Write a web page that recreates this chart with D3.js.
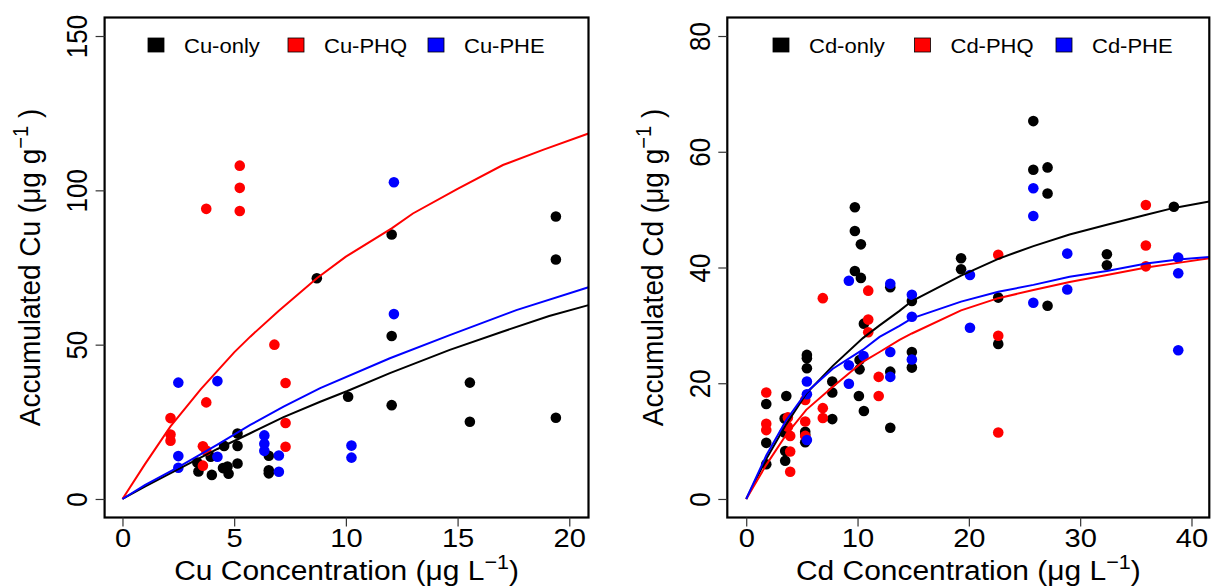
<!DOCTYPE html>
<html>
<head>
<meta charset="utf-8">
<script src="https://cdn.jsdelivr.net/npm/d3@7"></script>
<style>
  body { margin: 0; background: #fff; }
</style>
</head>
<body>
<script>
// ---- data ----

// left panel: Cu
var cuTicksX = [0, 5, 10, 15, 20],
    cuTicksY = [0, 50, 100, 150];

var cuOnly = [[3.35,11.8],[3.4,8.9],[3.95,13.7],[4.0,7.8],[4.55,17.2],[4.5,10.0],[4.7,10.5],
    [4.75,8.2],[5.15,21.2],[5.15,17.2],[5.15,11.5],[6.55,14.0],[6.55,9.3],[6.55,8.3],[8.7,71.5],
    [10.1,33.1],[12.05,85.7],[12.05,52.8],[12.05,30.4],[15.55,37.7],[15.55,25.0],[19.4,91.5],
    [19.4,77.6],[19.4,26.3]];
var cuPHQ = [[2.15,26.2],[2.15,20.9],[2.15,18.9],[3.75,94.0],[3.75,31.3],[3.6,17.1],[3.75,15.7],
    [3.6,10.8],[5.25,108.0],[5.25,100.8],[5.25,93.3],[6.8,50.0],[7.3,37.6],[7.3,24.6],[7.3,16.9]];
var cuPHE = [[2.5,37.7],[2.5,13.9],[2.5,10.1],[4.25,38.2],[4.25,13.7],[6.35,20.6],[6.35,17.9],
    [6.35,15.6],[7.0,14.1],[7.0,8.8],[10.25,17.3],[10.25,13.4],[12.15,102.6],[12.15,59.9]];

var cuFitOnly = [[0,0],[1,4.0],[2.5,9.7],[4.25,16.2],[5.72,21.3],[7.21,26.5],[8.85,31.5],
    [10.04,34.9],[11.97,40.8],[14.65,48.3],[17,54.2],[19.1,59.3],[20.86,62.8]];
var cuFitPHQ = [[0,0],[1,11.2],[2.15,23.5],[3.5,35.5],[5,47.5],[5.72,52.6],[7,61],[8.7,71.5],
    [10,78.5],[12.05,87.7],[13,92.5],[15,100.5],[17.03,108.2],[18.82,113.1],[20.86,118.4]];
var cuFitPHE = [[0,0],[1,4.5],[2.5,10.3],[4.25,17.6],[5.72,24],[7.21,29.9],[8.85,35.9],
    [11.97,45.6],[14.65,53.1],[17.63,61.2],[20.86,68.6]];

// right panel: Cd
var cdTicksX = [0, 10, 20, 30, 40],
    cdTicksY = [0, 20, 40, 60, 80];

var cdOnly = [[1.8,16.4],[1.8,9.7],[1.8,6.0],[3.45,13.9],[3.6,17.8],[3.45,11.5],[3.5,8.3],[3.5,6.6],
    [5.45,24.9],[5.45,24.3],[5.45,22.6],[5.3,11.6],[5.3,11.1],[5.3,9.8],[7.73,20.3],[7.73,18.4],
    [7.73,13.8],[9.76,50.4],[9.76,46.3],[10.3,44.0],[9.76,39.4],[10.3,38.2],[10.57,30.3],
    [10.18,24.0],[10.18,22.4],[10.12,17.8],[10.57,15.2],[12.94,36.6],[12.94,22.0],[12.94,12.3],
    [14.88,34.2],[14.88,25.4],[14.88,22.7],[19.3,41.6],[19.3,39.7],[22.64,34.8],[22.64,26.8],
    [25.79,65.3],[25.79,56.9],[27.07,57.3],[27.07,52.8],[27.07,33.4],[32.4,42.3],[32.4,40.4],
    [38.42,50.5]];
var cdPHQ = [[1.8,18.4],[1.8,13.0],[1.8,11.9],[3.74,14.1],[3.74,12.5],[3.95,10.9],[3.95,8.2],
    [3.95,4.7],[5.3,17.1],[5.3,13.4],[5.3,10.9],[6.88,34.7],[6.88,15.7],[6.88,14.0],[10.96,36.0],
    [10.96,31.0],[10.96,28.8],[11.9,21.1],[11.9,17.8],[22.64,42.2],[22.64,28.2],[22.64,11.5],
    [35.9,50.8],[35.9,43.8],[35.9,40.2]];
var cdPHE = [[5.45,20.3],[5.45,18.1],[5.45,10.2],[9.22,37.7],[9.22,23.1],[9.22,19.9],[10.54,24.7],
    [12.94,37.2],[12.94,25.4],[12.94,21.1],[14.88,35.3],[14.88,31.5],[14.88,24.1],[20.1,38.7],
    [20.1,29.6],[25.79,53.7],[25.79,48.9],[25.79,33.9],[28.84,42.4],[28.84,36.2],[38.81,41.7],
    [38.81,39.0],[38.81,25.7]];

var cdFitOnly = [[0,0],[1.8,6.9],[3.59,12.9],[5.39,18.2],[7.78,23.0],[10.48,27.8],[11.98,30.0],
    [13.77,32.5],[14.88,34.2],[19.3,38.6],[22.64,41.5],[25.8,43.7],[29.05,45.7],[32.4,47.4],
    [35.94,49.1],[38.42,50.3],[41.6,51.4]];
var cdFitPHQ = [[0,0],[1.8,5.9],[3.59,11.1],[5.39,15.4],[7.78,19.4],[10.48,23.7],[11.98,25.4],
    [13.77,27.5],[14.88,28.6],[19.3,32.6],[22.64,34.7],[25.8,36.1],[29.05,37.5],[32.4,38.7],
    [35.94,40.0],[38.8,40.8],[41.6,41.6]];
var cdFitPHE = [[0,0],[1.8,7.5],[3.59,13.6],[5.39,18.4],[7.78,22.5],[10.48,25.8],[11.98,28.0],
    [13.77,29.9],[14.88,31.2],[19.3,34.1],[22.64,35.8],[25.8,37.0],[29.05,38.4],[32.4,39.4],
    [35.94,40.7],[38.8,41.4],[41.6,41.8]];

var cuLegend = ["Cu-only", "Cu-PHQ", "Cu-PHE"],
    cdLegend = ["Cd-only", "Cd-PHQ", "Cd-PHE"];
var colors = ["#000000", "#ff0000", "#0000ff"];

// ---- drawing ----
var width = 1212, height = 586;
var FONT = "'Liberation Sans', Arial, Helvetica, sans-serif";
var SX_TICK = 1.12,  // glyphs in the original are a bit wide
    SX_TITLE = 1.07,
    SX_LEG = 1.1;

var svg = d3.select("body").append("svg")
    .attr("width", width)
    .attr("height", height);

//text with a superscript part, e.g. (μg g^-1)
function supText(sel, main, sup, tail){
    sel.append("tspan").text(main);
    sel.append("tspan").attr("dy", -11).attr("font-size", "0.72em").text(sup);
    sel.append("tspan").attr("dy", 11).text(tail);
}

function drawPanel(p){
    var x = d3.scaleLinear().domain(p.xDomain).range([p.left, p.right]);
    var y = d3.scaleLinear().domain(p.yDomain).range([p.bottom, p.top]);
    var g = svg.append("g");

    //points
    p.series.forEach(function(pts, i){
        g.append("g").selectAll("circle")
            .data(pts)
            .enter()
            .append("circle")
            .attr("cx", function(d){ return x(d[0]); })
            .attr("cy", function(d){ return y(d[1]); })
            .attr("r", 5.3)
            .attr("fill", colors[i]);
    });

    //fitted curves
    var line = d3.line()
        .x(function(d){ return x(d[0]); })
        .y(function(d){ return y(d[1]); });
    p.fits.forEach(function(f, i){
        g.append("path")
            .attr("d", line(f))
            .attr("fill", "none")
            .attr("stroke", colors[i])
            .attr("stroke-width", 2);
    });

    //box
    g.append("rect")
        .attr("x", p.left).attr("y", p.top)
        .attr("width", p.right - p.left)
        .attr("height", p.bottom - p.top)
        .attr("fill", "none")
        .attr("stroke", "#000")
        .attr("stroke-width", 2.2);

    //x axis
    var xa = g.append("g")
        .attr("transform", "translate(0," + p.bottom + ")")
        .call(d3.axisBottom(x).tickValues(p.xTicks).tickSize(9).tickFormat(d3.format("d")));
    xa.select(".domain").remove();
    xa.selectAll("line").attr("stroke", "#333").attr("stroke-width", 1.2);
    xa.selectAll("text")
        .attr("y", null).attr("dy", null)
        .attr("transform", "translate(0," + (p.xLabelBase - p.bottom) + ") scale(" + SX_TICK + ",1)")
        .attr("font-size", 26).attr("font-family", FONT).attr("fill", "#000");

    //y axis, labels rotated like R's las=0
    var ya = g.append("g")
        .attr("transform", "translate(" + p.left + ",0)")
        .call(d3.axisLeft(y).tickValues(p.yTicks).tickSize(9).tickFormat(d3.format("d")));
    ya.select(".domain").remove();
    ya.selectAll("line").attr("stroke", "#333").attr("stroke-width", 1.2);
    ya.selectAll("text")
        .attr("x", null).attr("dy", null)
        .attr("text-anchor", "middle")
        .attr("transform", "translate(" + (p.yLabelBase - p.left) + ",0) scale(" + SX_TICK + ",1) rotate(-90)")
        .attr("font-size", 26).attr("font-family", FONT).attr("fill", "#000");

    //axis titles
    var xt = g.append("text")
        .attr("text-anchor", "middle")
        .attr("transform", "translate(" + ((p.left + p.right) / 2) + "," + p.xTitleBase + ") scale(" + SX_TITLE + ",1)")
        .attr("font-size", 28).attr("font-family", FONT);
    supText(xt, p.xTitle, "\u22121", ")");

    var yt = g.append("text")
        .attr("text-anchor", "middle")
        .attr("transform", "translate(" + p.yTitleBase + "," + ((p.top + p.bottom) / 2) + ") scale(" + SX_TITLE + ",1) rotate(-90)")
        .attr("font-size", 28).attr("font-family", FONT);
    supText(yt, p.yTitle, "\u22121", " )");

    //legend
    var leg = g.append("g").selectAll("g")
        .data(p.legend)
        .enter()
        .append("g")
        .attr("transform", function(d, i){ return "translate(" + (p.legX + i * p.legStep) + "," + p.legY + ")"; });
    leg.append("rect")
        .attr("x", 0).attr("y", 0)
        .attr("width", 16).attr("height", 14)
        .attr("fill", function(d, i){ return colors[i]; })
        .attr("stroke", "#000").attr("stroke-width", 0.8);
    leg.append("text")
        .attr("transform", "translate(36,15) scale(" + SX_LEG + ",1)")
        .attr("font-size", 20).attr("font-family", FONT)
        .text(function(d){ return d; });
}

drawPanel({
    left: 104.6, right: 588.5, top: 17.5, bottom: 517.5,
    xDomain: [-0.8, 20.86], yDomain: [-6, 156],
    xTicks: cuTicksX, yTicks: cuTicksY,
    series: [cuOnly, cuPHQ, cuPHE],
    fits: [cuFitOnly, cuFitPHQ, cuFitPHE],
    xLabelBase: 547, yLabelBase: 87,
    xTitleBase: 580, yTitleBase: 40,
    xTitle: "Cu Concentration (\u03bcg L",
    yTitle: "Accumulated Cu (\u03bcg g",
    legend: cuLegend, legX: 148, legStep: 140, legY: 38
});

drawPanel({
    left: 727.3, right: 1209.3, top: 17.5, bottom: 517.5,
    xDomain: [-1.7, 41.6], yDomain: [-3.2, 83.2],
    xTicks: cdTicksX, yTicks: cdTicksY,
    series: [cdOnly, cdPHQ, cdPHE],
    fits: [cdFitOnly, cdFitPHQ, cdFitPHE],
    xLabelBase: 547, yLabelBase: 709.7,
    xTitleBase: 580, yTitleBase: 662.7,
    xTitle: "Cd Concentration (\u03bcg L",
    yTitle: "Accumulated Cd (\u03bcg g",
    legend: cdLegend, legX: 773, legStep: 141.5, legY: 38
});
</script>
</body>
</html>
